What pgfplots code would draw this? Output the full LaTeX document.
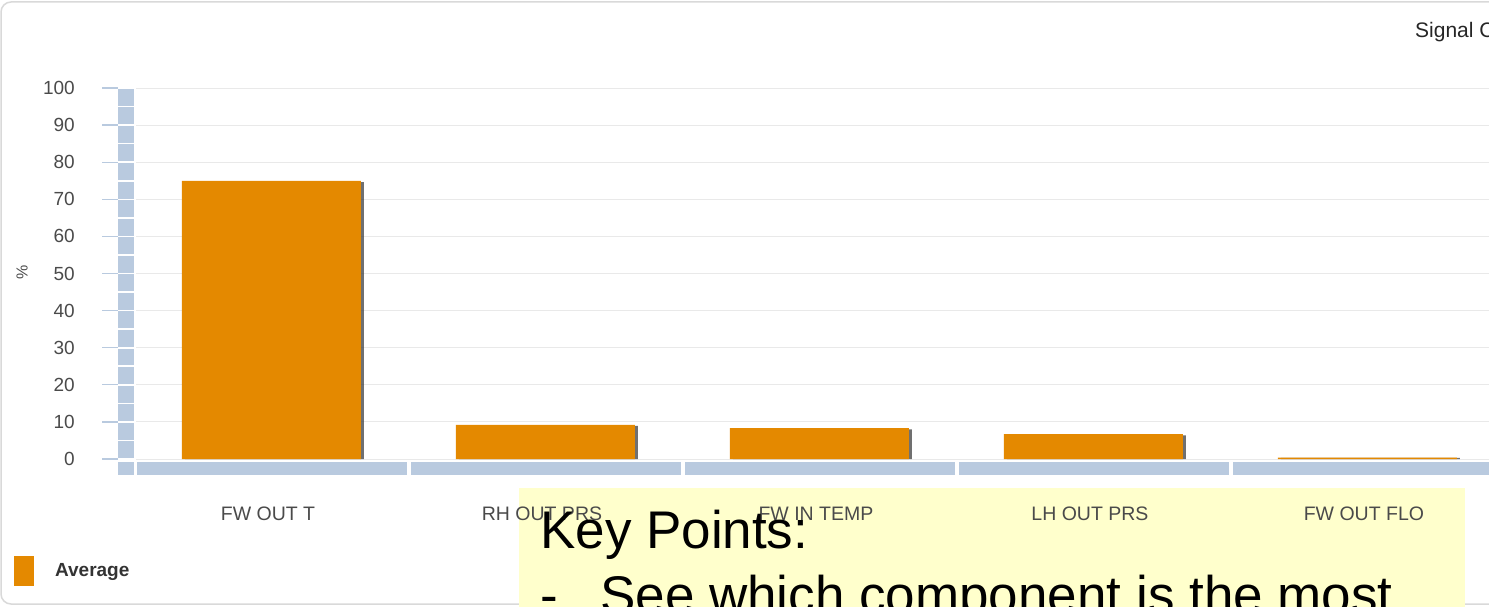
\documentclass[border=0pt]{standalone}
\usepackage{pgfplots}
\pgfplotsset{compat=1.18}
\usepackage{fontspec}
\setmainfont{Liberation Sans}
\definecolor{barorange}{HTML}{E48900}
\definecolor{wallblue}{HTML}{B9CADF}
\definecolor{gridgray}{HTML}{E9E9E9}
\definecolor{labelgray}{HTML}{4A4A4A}
\definecolor{noteyellow}{HTML}{FFFFCC}
\begin{document}
\begin{tikzpicture}[x=1pt,y=1pt]
\useasboundingbox (0,0) rectangle (1489,-607);
\clip (0,0) rectangle (1489,-607);
% panel frame
\draw[gray!30, line width=1.5pt, rounded corners=10pt] (1,-2) rectangle (1560,-604);
% note box (behind the labels)
\fill[noteyellow] (519,-488) rectangle (1465,-620);
% 3D wall and floor
\foreach \k in {0,...,19}
  \fill[wallblue] (118,{-88-\k*18.55-0.8}) rectangle (134,{-88-(\k+1)*18.55+0.8});
\fill[wallblue] (118,-461.5) rectangle (134,-475);
\foreach \k in {0,...,4}
  \fill[wallblue] ({137+274*\k},-461.5) rectangle ({133+274*(\k+1)},-475);
\foreach \v in {0,10,...,100}
  \draw[wallblue, line width=1.3pt] (102,{-459+3.71*\v}) -- (118,{-459+3.71*\v});

\begin{axis}[
    at={(136pt,-459pt)}, anchor=south west,
    scale only axis, width=1370pt, height=371pt,
    xmin=-0.5, xmax=4.5, ymin=0, ymax=100,
    ytick={0,10,...,100},
    xtick={0,...,4},
    xticklabels={FW OUT T, RH OUT PRS, FW IN TEMP, LH OUT PRS, FW OUT FLO},
    axis line style={draw=none},
    major tick length=0pt,
    ymajorgrids,
    grid style={gridgray, line width=1pt},
    /pgf/number format/assume math mode=true,
    yticklabel style={font=\fontsize{19}{22}\selectfont, text=labelgray,
        anchor=east, inner sep=0pt, xshift=-61pt},
    xticklabel style={font=\fontsize{19.5}{22}\selectfont, text=labelgray,
        anchor=north, inner sep=0pt, yshift=-48pt, xshift=-5pt},
    ylabel={\%},
    ylabel style={font=\fontsize{16}{18}\selectfont, text=labelgray,
        at={(axis description cs:-0.0832,0.504)}, anchor=center},
    legend style={at={(axis description cs:-0.0891,-0.3019)}, anchor=west,
        draw=none, fill=none, inner sep=0pt, column sep=19pt,
        font=\fontsize{19}{22}\selectfont\bfseries, text=black!80},
    legend image code/.code={\fill[barorange] (0pt,-15pt) rectangle (20pt,15pt);},
]
% soft shadow on the right of each bar
\addplot[ybar, bar width=179pt, bar shift=1.5pt, fill=black!75, draw=none,
    opacity=0.75, forget plot]
    coordinates {(0,74.6) (1,8.9) (2,8.0) (3,6.4) (4,0.3)};
\addplot[ybar, bar width=179pt, bar shift=-1.5pt, fill=barorange, draw=none]
    coordinates {(0,75) (1,9.2) (2,8.3) (3,6.7) (4,0.4)};
\addlegendentry{Average}
\end{axis}

\node[anchor=west, font=\fontsize{21}{24}\selectfont, text=black!85, inner sep=0pt]
    at (1415,-32) {Signal Contribution};
\node[anchor=base west, font=\fontsize{53}{60}\selectfont, inner sep=0pt]
    at (540,-548) {Key Points:};
\node[anchor=base west, font=\fontsize{53}{60}\selectfont, inner sep=0pt]
    at (540,-613) {-};
\node[anchor=base west, font=\fontsize{53}{60}\selectfont, inner sep=0pt]
    at (600,-613) {See which component is the most};
\end{tikzpicture}
\end{document}
